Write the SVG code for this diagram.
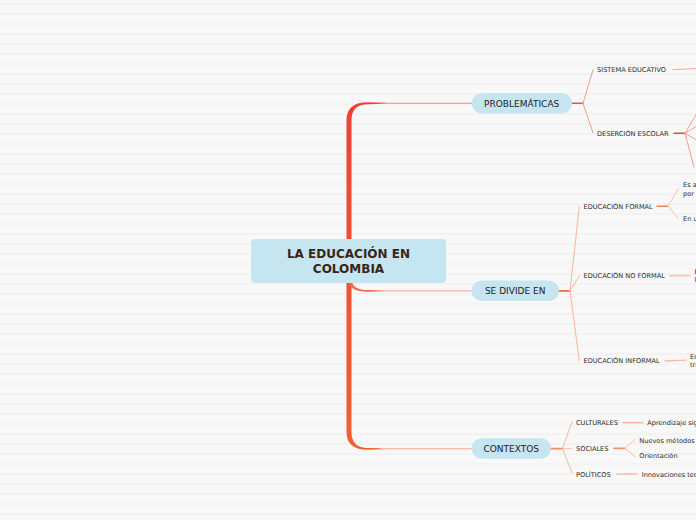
<svg xmlns="http://www.w3.org/2000/svg" width="696" height="520" viewBox="0 0 696 520">
  <defs>
    <pattern id="stripes" x="0" y="0" width="696" height="10" patternUnits="userSpaceOnUse">
      <rect x="0" y="0" width="696" height="10" fill="#f8f8f8"/>
      <rect x="0" y="3.3" width="696" height="1.4" fill="#f1f1f1"/>
    </pattern>
    <linearGradient id="trunk" x1="0" y1="103" x2="0" y2="449" gradientUnits="userSpaceOnUse">
      <stop offset="0" stop-color="#ef4136"/>
      <stop offset="1" stop-color="#f26130"/>
    </linearGradient>
    <style>
      .pill { fill: #c5e5f0; }
      .ntext { font-family: "DejaVu Sans", Verdana, sans-serif; font-size: 9px; fill: #222222; text-anchor: middle; }
      .small { font-family: "DejaVu Sans", Verdana, sans-serif; font-size: 6.6px; fill: #2b2b2b; }
      .title { font-family: "DejaVu Sans", Verdana, sans-serif; font-size: 12px; font-weight: bold; fill: #3a2415; text-anchor: middle; }
      .ln { fill: none; stroke-linecap: round; }
    </style>
  </defs>

  <rect x="0" y="0" width="696" height="520" fill="url(#stripes)"/>

  <g id="connectors">
    <path d="M 346.5 120 Q 346.5 102.3 368 102.3 L 385 102.7 L 385 103.7 L 368 104.3 Q 351.5 104.3 351.5 120 L 351.5 432 Q 351.5 447.8 368 448.1 L 385 448.3 L 385 449.2 L 368 449.8 Q 346.5 449.8 346.5 432 Z" fill="url(#trunk)"/>
    <path d="M 348.5 281 Q 350 291.9 368 291.7 L 385 291.3 L 385 290.5 L 368 290.1 Q 353 290 352 281 Z" fill="#f06a45"/>
    <line class="ln" x1="380" y1="103.2" x2="472" y2="103.2" stroke="#f0877c" stroke-width="1.1"/>
    <line class="ln" x1="380" y1="290.9" x2="472" y2="290.9" stroke="#f8b4a0" stroke-width="1.2"/>
    <line class="ln" x1="380" y1="448.7" x2="472" y2="448.7" stroke="#f9b9a2" stroke-width="1.2"/>

    <line class="ln" x1="572" y1="103.3" x2="583" y2="103.3" stroke="#ec5446" stroke-width="1.4"/>
    <line class="ln" x1="583" y1="103.3" x2="593" y2="70" stroke="#f49a8c" stroke-width="1"/>
    <line class="ln" x1="583" y1="103.3" x2="593" y2="132.7" stroke="#f49a8c" stroke-width="1"/>
    <line class="ln" x1="673" y1="69.6" x2="696" y2="68.6" stroke="#f4a59a" stroke-width="1"/>
    <line class="ln" x1="674" y1="133.3" x2="685" y2="133.3" stroke="#e84a3c" stroke-width="1.4"/>
    <line class="ln" x1="685" y1="133.3" x2="700" y2="108" stroke="#f59a90" stroke-width="1"/>
    <line class="ln" x1="685" y1="133.3" x2="700" y2="124" stroke="#f59a90" stroke-width="1"/>
    <line class="ln" x1="685" y1="133.3" x2="700" y2="142" stroke="#f59a90" stroke-width="1"/>
    <line class="ln" x1="685" y1="133.3" x2="694" y2="167" stroke="#f59a90" stroke-width="1"/>

    <line class="ln" x1="559" y1="291" x2="570" y2="291" stroke="#f47a50" stroke-width="1.8"/>
    <line class="ln" x1="570" y1="291" x2="579.3" y2="206.7" stroke="#f8b49c" stroke-width="1"/>
    <line class="ln" x1="570" y1="291" x2="579.3" y2="276" stroke="#f8b49c" stroke-width="1"/>
    <line class="ln" x1="570" y1="291" x2="579.3" y2="360.7" stroke="#f8b49c" stroke-width="1"/>
    <line class="ln" x1="657" y1="206.3" x2="668" y2="206.3" stroke="#f4814f" stroke-width="1.4"/>
    <line class="ln" x1="668" y1="206.3" x2="678.3" y2="189" stroke="#f9c0a5" stroke-width="1"/>
    <line class="ln" x1="668" y1="206.3" x2="678.3" y2="218.3" stroke="#f9c0a5" stroke-width="1"/>
    <line class="ln" x1="670" y1="275.7" x2="690" y2="275.7" stroke="#f8c7b4" stroke-width="1.8"/>
    <line class="ln" x1="665" y1="361" x2="686" y2="360.2" stroke="#f7b8a0" stroke-width="1.3"/>

    <line class="ln" x1="551" y1="448.7" x2="562.5" y2="448.7" stroke="#f48a60" stroke-width="1.8"/>
    <line class="ln" x1="562.5" y1="448.7" x2="572" y2="421.7" stroke="#f8b8a0" stroke-width="1"/>
    <line class="ln" x1="562.5" y1="448.7" x2="572" y2="448.7" stroke="#f8b8a0" stroke-width="1"/>
    <line class="ln" x1="562.5" y1="448.7" x2="572" y2="472.7" stroke="#f8b8a0" stroke-width="1"/>
    <line class="ln" x1="623.3" y1="422.7" x2="642.7" y2="422.7" stroke="#f8c0ac" stroke-width="1.8"/>
    <line class="ln" x1="614" y1="448.3" x2="625" y2="448.3" stroke="#f4916a" stroke-width="1.8"/>
    <line class="ln" x1="625" y1="448.3" x2="635" y2="439.5" stroke="#f8c0a8" stroke-width="1"/>
    <line class="ln" x1="625" y1="448.3" x2="635" y2="456.7" stroke="#f8c0a8" stroke-width="1"/>
    <line class="ln" x1="617" y1="474.2" x2="636.7" y2="474.2" stroke="#f8c4b0" stroke-width="1.8"/>
  </g>

  <g id="root">
    <rect x="251" y="239" width="195" height="44" rx="4" fill="#c5e5f0"/>
    <text class="title" x="348.5" y="257.6">LA EDUCACIÓN EN</text>
    <text class="title" x="348.5" y="272.8">COLOMBIA</text>
  </g>

  <g id="problematicas">
    <rect class="pill" x="471.5" y="93" width="100.5" height="20.5" rx="10.25"/>
    <text class="ntext" x="521.7" y="106.5">PROBLEMÁTICAS</text>
  </g>
  <g id="se-divide-en">
    <rect class="pill" x="471.5" y="280.5" width="87.5" height="20.5" rx="10.25"/>
    <text class="ntext" x="515.2" y="294">SE DIVIDE EN</text>
  </g>
  <g id="contextos">
    <rect class="pill" x="471.5" y="438.3" width="79.5" height="20.5" rx="10.25"/>
    <text class="ntext" x="511.2" y="451.9">CONTEXTOS</text>
  </g>

  <g id="sistema-educativo"><text class="small" x="597" y="72">SISTEMA EDUCATIVO</text></g>
  <g id="desercion-escolar"><text class="small" x="597" y="135.7">DESERCIÓN ESCOLAR</text></g>

  <g id="educacion-formal"><text class="small" x="583.5" y="209.1">EDUCACIÓN FORMAL</text></g>
  <g id="formal-1">
    <text class="small" x="683" y="187.4">Es a</text>
    <text class="small" x="683" y="195.7">por</text>
  </g>
  <g id="formal-2"><text class="small" x="683" y="221.1">En u</text></g>
  <g id="educacion-no-formal"><text class="small" x="583.5" y="278.1">EDUCACIÓN NO FORMAL</text></g>
  <g id="no-formal-1">
    <text class="small" x="694.5" y="274">E</text>
    <text class="small" x="694.5" y="281.8">l</text>
  </g>
  <g id="educacion-informal"><text class="small" x="583.5" y="363.1">EDUCACIÓN INFORMAL</text></g>
  <g id="informal-1">
    <text class="small" x="690" y="359.3">Ed</text>
    <text class="small" x="690" y="367.2">tra</text>
  </g>

  <g id="culturales"><text class="small" x="576" y="425.1">CULTURALES</text></g>
  <g id="culturales-1"><text class="small" x="647.3" y="425.1">Aprendizaje sig</text></g>
  <g id="sociales"><text class="small" x="576" y="450.7">SOCIALES</text></g>
  <g id="sociales-1"><text class="small" x="639.3" y="442.7">Nuevos métodos</text></g>
  <g id="sociales-2"><text class="small" x="639.3" y="458.4">Orientación</text></g>
  <g id="politicos"><text class="small" x="576" y="476.7">POLÍTICOS</text></g>
  <g id="politicos-1"><text class="small" x="641.7" y="476.7">Innovaciones tec</text></g>
</svg>
